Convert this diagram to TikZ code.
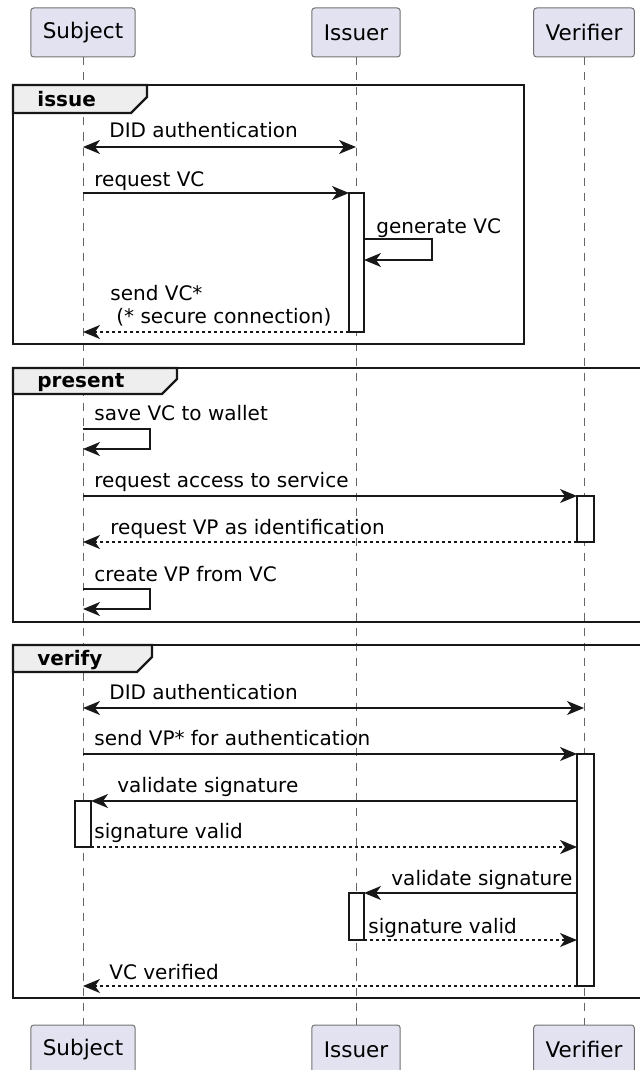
\documentclass[tikz,border=0pt]{standalone}
\usepackage{fontspec}
\setmainfont{DejaVu Sans}
\usetikzlibrary{arrows.meta}
\definecolor{partfill}{HTML}{E2E2F0}
\definecolor{tabfill}{HTML}{EEEEEE}
\definecolor{ink}{HTML}{181818}

\begin{document}
\begin{tikzpicture}[x=0.5pt, y=-0.5pt,
    >={Stealth[length=8.5pt, width=7pt, inset=2.5pt]},
    part/.style={draw=black!55, line width=0.5pt, fill=partfill, rounded corners=1.5pt,
        minimum height=24.5pt, inner xsep=6pt, font=\fontsize{10.75}{13}\selectfont},
    life/.style={draw=black!60, line width=0.5pt, dash pattern=on 4pt off 3.5pt},
    msg/.style={draw=ink, line width=0.75pt, ->},
    reply/.style={msg, dash pattern=on 1.6pt off 1.4pt},
    act/.style={draw=ink, line width=0.75pt, fill=white},
    grp/.style={draw=ink, line width=1.1pt},
    lbl/.style={anchor=base west, inner sep=0pt, font=\fontsize{10}{12}\selectfont},
    glbl/.style={lbl, font=\bfseries\fontsize{10}{12}\selectfont}]
    \useasboundingbox (0,0) rectangle (640,1070);
    \clip (0,0) rectangle (640,1070);

    % participants
    \node[part] (hS) at (83,32.5) {Subject};
    \node[part] (hI) at (356,32.5) {Issuer};
    \node[part] (hV) at (584,32.5) {Verifier};
    \node[part] (fS) at (83,1049.5) {Subject};
    \node[part] (fI) at (356,1049.5) {Issuer};
    \node[part] (fV) at (584,1049.5) {Verifier};
    \draw[life] (hS.south) -- (fS.north);
    \draw[life] (hI.south) -- (fI.north);
    \draw[life] (hV.south) -- (fV.north);

    % group issue
    \draw[grp] (13,85) rectangle (524,344);
    \draw[grp, fill=tabfill] (13,85) -- (147,85) -- (147,97) -- (131,113) -- (13,113) -- cycle;
    \node[glbl] (gIssue) at (37,106) {issue};

    \coordinate (m1s) at (83,147);
    \coordinate (m1i) at (356,147);
    \draw[msg, <->] (m1s) -- (m1i);
    \node[lbl] (l1) at (109,138) {DID authentication};

    \coordinate (m2s) at (83,193);
    \coordinate (a1t) at (349,193);
    \coordinate (a1b) at (364,332);
    \draw[act] (a1t) rectangle (a1b);
    \draw[msg] (m2s) -- (a1t);
    \node[lbl] (l2) at (94,186) {request VC};

    \coordinate (g1) at (364,239);
    \coordinate (g2) at (364,260);
    \draw[msg] (g1) -- ++(68,0) |- (g2);
    \node[lbl] (l3) at (376,233) {generate VC};

    \coordinate (m4s) at (83,332);
    \draw[reply] (a1t |- a1b) -- (m4s);
    \node[lbl] (l4a) at (110,300) {send VC*};
    \node[lbl] (l4b) at (116,323) {(* secure connection)};

    % group present
    \draw[grp] (13,368) rectangle (660,622);
    \draw[grp, fill=tabfill] (13,368) -- (177,368) -- (177,379) -- (162,394) -- (13,394) -- cycle;
    \node[glbl] (gPresent) at (37,387) {present};

    \coordinate (w1) at (83,429);
    \coordinate (w2) at (83,449);
    \draw[msg] (w1) -- ++(67,0) |- (w2);
    \node[lbl] (l5) at (94,420) {save VC to wallet};

    \coordinate (m6s) at (83,496);
    \coordinate (a2t) at (577,496);
    \coordinate (a2b) at (594,542);
    \draw[act] (a2t) rectangle (a2b);
    \draw[msg] (m6s) -- (a2t);
    \node[lbl] (l6) at (94,487) {request access to service};

    \coordinate (m7s) at (83,542);
    \draw[reply] (a2t |- a2b) -- (m7s);
    \node[lbl] (l7) at (110,534) {request VP as identification};

    \coordinate (c1) at (83,589);
    \coordinate (c2) at (83,609);
    \draw[msg] (c1) -- ++(67,0) |- (c2);
    \node[lbl] (l8) at (94,581) {create VP from VC};

    % group verify
    \draw[grp] (13,645) rectangle (660,998);
    \draw[grp, fill=tabfill] (13,645) -- (152,645) -- (152,657) -- (137,672) -- (13,672) -- cycle;
    \node[glbl] (gVerify) at (37,665) {verify};

    \coordinate (m9s) at (83,708);
    \coordinate (m9v) at (584,708);
    \draw[msg, <->] (m9s) -- (m9v);
    \node[lbl] (l9) at (109,699) {DID authentication};

    \coordinate (m10s) at (83,754);
    \coordinate (a3t) at (577,754);
    \coordinate (a3b) at (594,986);
    \coordinate (a4t) at (75,801);
    \coordinate (a4b) at (91,847);
    \coordinate (a5t) at (349,893);
    \coordinate (a5b) at (364,940);
    \draw[act] (a3t) rectangle (a3b);
    \draw[act] (a4t) rectangle (a4b);
    \draw[act] (a5t) rectangle (a5b);

    \draw[msg] (m10s) -- (a3t);
    \node[lbl] (l10) at (94,745) {send VP* for authentication};

    \draw[msg] (a3t |- a4t) -- (a4b |- a4t);
    \node[lbl] (l11) at (117,792) {validate signature};
    \draw[reply] (a4b) -- (a3t |- a4b);
    \node[lbl] (l12) at (94,838) {signature valid};

    \draw[msg] (a3t |- a5t) -- (a5b |- a5t);
    \node[lbl] (l13) at (391,885) {validate signature};
    \draw[reply] (a5b) -- (a3t |- a5b);
    \node[lbl] (l14) at (368,933) {signature valid};

    \coordinate (m16s) at (83,986);
    \draw[reply] (a3t |- m16s) -- (m16s);
    \node[lbl] (l15) at (109,979) {VC verified};
\end{tikzpicture}
\end{document}
